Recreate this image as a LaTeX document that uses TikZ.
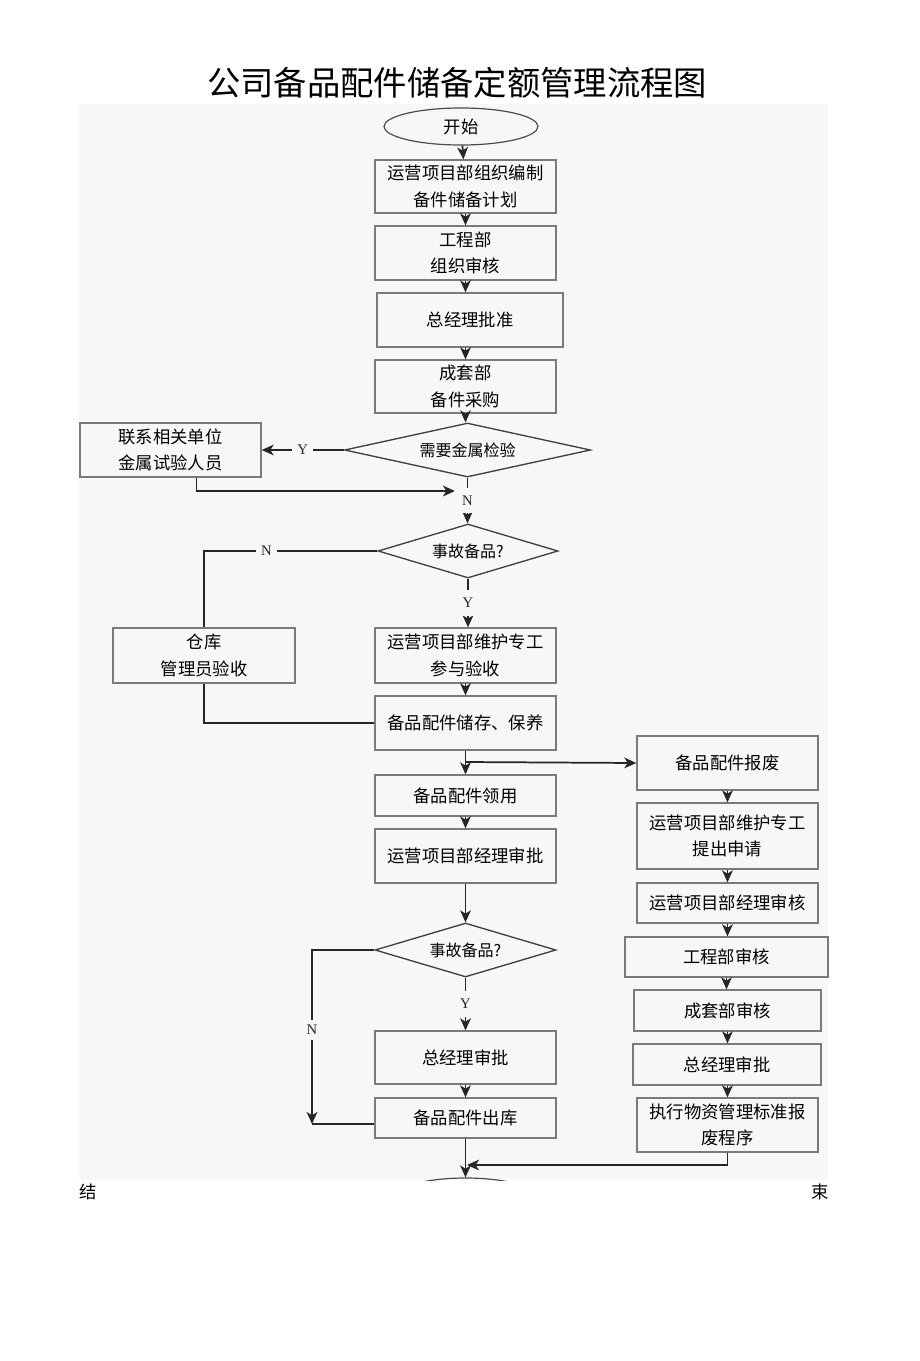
\documentclass[tikz,border=0pt]{standalone}
\usepackage{fontspec}
\setmainfont{Liberation Serif}
\newfontfamily\cjk{Noto Sans CJK SC}
\usetikzlibrary{shapes.geometric,arrows.meta}
\definecolor{panel}{HTML}{F7F7F7}
\definecolor{edge}{HTML}{7A7A7A}
\tikzset{
  sz/.style 2 args={minimum width=#1*0.75pt, minimum height=#2*0.75pt},
  box/.style={draw=edge, line width=1pt, fill=panel, inner sep=0pt, align=center,
    font=\cjk\fontsize{13}{20}\selectfont},
  dia/.style={diamond, draw=black!75, line width=1pt, inner sep=0pt, align=center,
    font=\cjk\fontsize{12}{14}\selectfont},
  term/.style={ellipse, draw=black!70, line width=0.9pt, inner sep=0pt,
    font=\cjk\fontsize{13}{16}\selectfont},
  conn/.style={line width=1.3pt, black!85},
  arr/.style={conn, -{Stealth[length=9pt,width=8pt,inset=2.5pt]}},
  lab/.style={fill=panel, inner sep=4pt, font=\fontsize{11}{12}\selectfont},
}
\begin{document}
\begin{tikzpicture}[x=0.75pt,y=-0.75pt]
\path[use as bounding box, fill=white] (0,0) rectangle (920,1361);
\fill[panel] (79,104) rectangle (828,1180);
\node[font=\cjk\fontsize{25}{28}\selectfont] (title) at (457,83) {公司备品配件储备定额管理流程图};

% main column
\node[term, sz={154}{37}] (start) at (461,126.5) {开始};
\node[box, sz={181}{53}] (b1) at (465.5,186.5) {运营项目部组织编制\\备件储备计划};
\node[box, sz={181}{54}] (b2) at (465.5,253) {工程部\\组织审核};
\node[box, sz={186}{54}] (b3) at (470,320) {总经理批准};
\node[box, sz={181}{53}] (b4) at (465.5,386.5) {成套部\\备件采购};
\node[dia, aspect=4.55, sz={246}{54}] (d1) at (467.5,450) {需要金属检验};
\node[box, sz={181}{54}] (L1) at (170.5,450) {联系相关单位\\金属试验人员};
\node[dia, aspect=3.33, sz={180}{54}] (d2) at (468,551) {事故备品?};
\node[box, sz={181}{55}] (b5) at (465.5,655.5) {运营项目部维护专工\\参与验收};
\node[box, sz={182}{55}] (L2) at (204,655.5) {仓库\\管理员验收};
\node[box, sz={181}{54}] (b6) at (465.5,723) {备品配件储存、保养};
\node[box, sz={181}{41}] (b7) at (465.5,795.5) {备品配件领用};
\node[box, sz={181}{54}] (b8) at (465.5,856) {运营项目部经理审批};
\node[dia, aspect=3.35, sz={181}{54}] (d3) at (465.5,950) {事故备品?};
\node[box, sz={181}{53}] (b9) at (465.5,1057.5) {总经理审批};
\node[box, sz={181}{40}] (b10) at (465.5,1118) {备品配件出库};

% right column
\node[box, sz={181}{54}] (R1) at (727.5,763) {备品配件报废};
\node[box, sz={181}{66}] (R2) at (727.5,836) {运营项目部维护专工\\提出申请};
\node[box, sz={181}{40}] (R3) at (727.5,903) {运营项目部经理审核};
\node[box, sz={203}{40}] (R4) at (726.5,957) {工程部审核};
\node[box, sz={187}{41}] (R5) at (727.5,1010.5) {成套部审核};
\node[box, sz={188}{41}] (R6) at (727,1064.5) {总经理审批};
\node[box, sz={181}{54}] (R7) at (727.5,1125) {执行物资管理标准报\\废程序};

% end terminal (clipped by panel)
\begin{scope}
\clip (79,104) rectangle (828,1180);
\node[term, sz={140}{37}] (end) at (465.5,1196.5) {};
\end{scope}
\node[font=\cjk\fontsize{13}{16}\selectfont] (e1) at (88,1192) {结};
\node[font=\cjk\fontsize{13}{16}\selectfont] (e2) at (820,1192) {束};

% coordinates
\coordinate (j1) at (455,491);
\coordinate (c3) at (312,1124);
\coordinate (br) at (465.5,762);
\coordinate (j2) at (467,1165);

% connectors main
\draw[arr] (start) -- (b1);
\draw[arr] (b1) -- (b2);
\draw[arr] (b2.south) -- (b2.south |- b3.north);
\draw[arr] (b3.south -| b4.north) -- (b4.north);
\draw[arr] (b4.south) -- (b4.south |- d1.north);
\draw[arr] (d1.west) -- node[lab]{Y} (L1.east);
\draw[arr] ([xshift=19.5pt]L1.south) |- (j1);
\draw[arr] (d1.south) -- node[lab, inner sep=6pt]{N} (d1.south |- d2.north);
\draw[conn] (d2.west) -| node[lab, pos=0.32]{N} (L2.north);
\draw[arr] (d2.south) -- node[lab, inner sep=6pt]{Y} (d2.south |- b5.north);
\draw[arr] (b5) -- (b6);
\draw[conn] (L2.south) |- (b6.west);
\draw[arr] (b6) -- (b7);
\draw[arr] (br) -- (R1.west);
\draw[arr] (b7) -- (b8);
\draw[arr] (b8) -- (d3);
\draw[arr] (d3.west) -| node[lab, pos=0.73]{N} (c3);
\draw[conn] (c3) -- (c3 -| b10.west);
\draw[arr] (d3.south) -- node[lab, inner sep=6pt]{Y} (b9.north);
\draw[arr] (b9) -- (b10);
\draw[arr] (b10.south) -- (end.north);

% connectors right
\draw[arr] (R1.south) -- (R1.south |- R2.north);
\draw[arr] (R2.south) -- (R2.south |- R3.north);
\draw[arr] (R3.south) -- (R3.south |- R4.north);
\draw[arr] (R4.south) -- (R4.south |- R5.north);
\draw[arr] (R5.south) -- (R5.south |- R6.north);
\draw[arr] (R6.south -| R7.north) -- (R7.north);
\draw[arr] (R7.south) |- (j2);
\end{tikzpicture}
\end{document}
